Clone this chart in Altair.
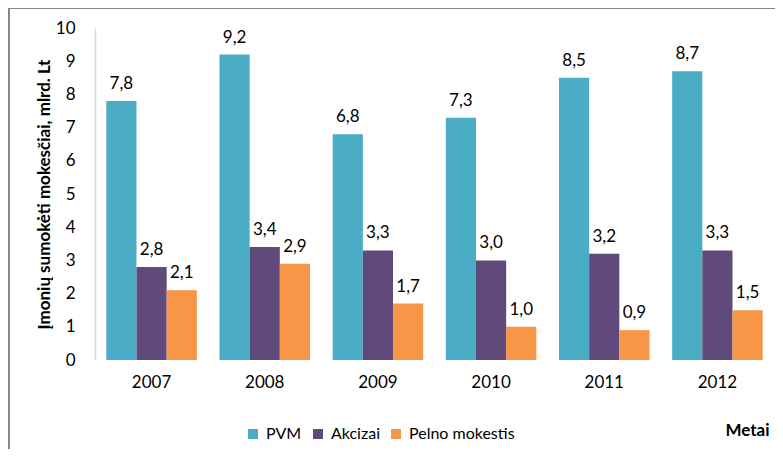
import altair as alt
import pandas as pd

years = ["2007", "2008", "2009", "2010", "2011", "2012"]
series = ["PVM", "Akcizai", "Pelno mokestis"]
pvm = [7.8, 9.2, 6.8, 7.3, 8.5, 8.7]
akcizai = [2.8, 3.4, 3.3, 3.0, 3.2, 3.3]
pelno = [2.1, 2.9, 1.7, 1.0, 0.9, 1.5]
colors = ["#4BACC6", "#604A7B", "#F79646"]

rows = []
for name, vals in zip(series, [pvm, akcizai, pelno]):
    for y, v in zip(years, vals):
        rows.append({"Metai": y, "Serija": name, "Reikšmė": v,
                     "Etiketė": f"{v:.1f}".replace(".", ",")})
df = pd.DataFrame(rows)

FONT = "Lato"

x = alt.X("Metai:N", sort=years,
          scale=alt.Scale(paddingInner=0.2, paddingOuter=0.1),
          axis=alt.Axis(title="Metai", labelAngle=0, domain=False, ticks=False,
                        labelFontSize=17, labelPadding=14, labelColor="#000",
                        titleFontSize=17, titleFontWeight="bold", titleColor="#000",
                        titleAlign="right", titleAnchor="end", titleX=674, titleY=62,
                        titleBaseline="top"))
y = alt.Y("Reikšmė:Q", scale=alt.Scale(domain=[0, 10], nice=False),
          axis=alt.Axis(title="Įmonių sumokėti mokesčiai, mlrd. Lt", values=list(range(0, 11)),
                        grid=False, ticks=False, domainColor="#d9d9d9", domainWidth=1.5,
                        labelFontSize=17, labelPadding=20, labelColor="#000",
                        titleFontSize=17, titleFontWeight="bold", titleColor="#000",
                        titlePadding=2))
xoff = alt.XOffset("Serija:N", sort=series)
color = alt.Color("Serija:N", sort=series,
                  scale=alt.Scale(domain=series, range=colors),
                  legend=alt.Legend(title=None, orient="none", direction="horizontal",
                                    legendX=150, legendY=398, symbolType="square",
                                    symbolSize=100, symbolStrokeWidth=0,
                                    labelFontSize=16, labelColor="#000",
                                    columnPadding=8, labelOffset=5))

bars = alt.Chart(df).mark_bar().encode(x=x, y=y, xOffset=xoff, color=color)
labels = alt.Chart(df).mark_text(baseline="alphabetic", dy=-12, fontSize=17,
                                 color="#000").encode(
    x=x, y=y, xOffset=xoff, text="Etiketė:N")

border = alt.Chart(pd.DataFrame({"k": [0]})).mark_rect(
    fill=None, stroke="#888888", strokeWidth=2, clip=False).encode(
    x=alt.value(-86), x2=alt.value(720), y=alt.value(-20), y2=alt.value(440))

chart = alt.layer(border, bars, labels).properties(
    width=679, height=332,
    autosize=alt.AutoSizeParams(type="none"),
    padding={"left": 87, "top": 20, "right": 1, "bottom": 89},
).configure(font=FONT).configure_view(stroke=None)

chart.save("out.html", embed_options={"renderer": "svg", "actions": False})
